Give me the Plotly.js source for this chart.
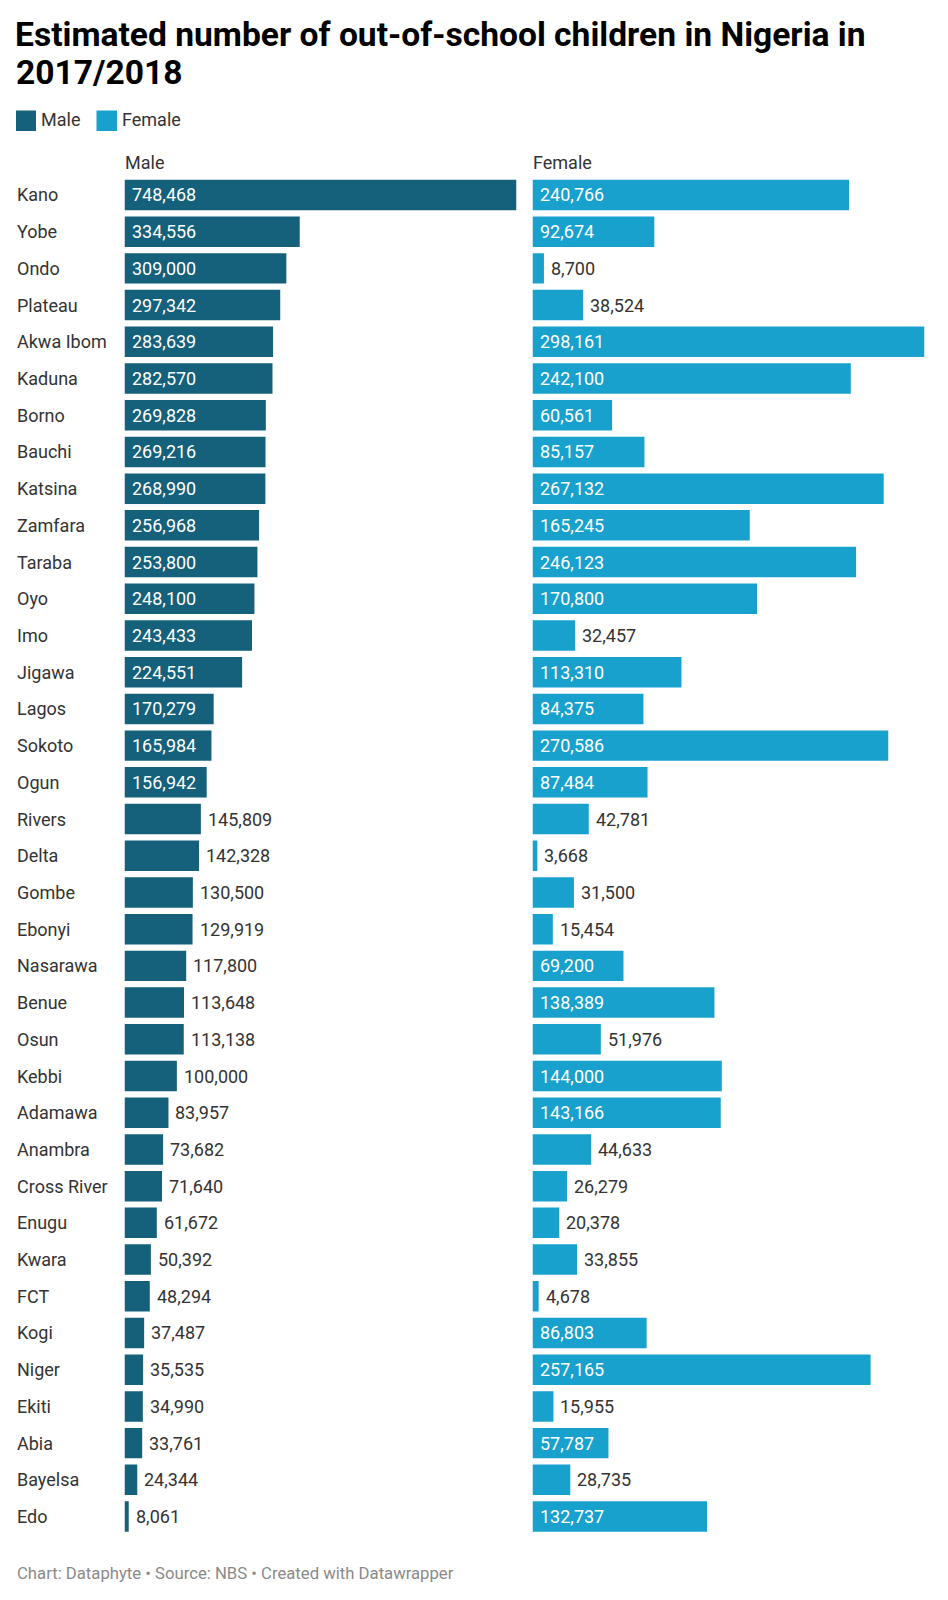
<!DOCTYPE html>
<html>
<head>
<meta charset="utf-8">
<script src="https://cdn.plot.ly/plotly-3.0.1.min.js"></script>
<style>
  html, body { margin: 0; padding: 0; background: #fff; }
  #chart { width: 948px; height: 1600px; }
</style>
</head>
<body>
<div id="chart"></div>
<script>
const states = ["Kano","Yobe","Ondo","Plateau","Akwa Ibom","Kaduna","Borno","Bauchi","Katsina","Zamfara","Taraba","Oyo","Imo","Jigawa","Lagos","Sokoto","Ogun","Rivers","Delta","Gombe","Ebonyi","Nasarawa","Benue","Osun","Kebbi","Adamawa","Anambra","Cross River","Enugu","Kwara","FCT","Kogi","Niger","Ekiti","Abia","Bayelsa","Edo"];
const male = [748468,334556,309000,297342,283639,282570,269828,269216,268990,256968,253800,248100,243433,224551,170279,165984,156942,145809,142328,130500,129919,117800,113648,113138,100000,83957,73682,71640,61672,50392,48294,37487,35535,34990,33761,24344,8061];
const female = [240766,92674,8700,38524,298161,242100,60561,85157,267132,165245,246123,170800,32457,113310,84375,270586,87484,42781,3668,31500,15454,69200,138389,51976,144000,143166,44633,26279,20378,33855,4678,86803,257165,15955,57787,28735,132737];
const seriesNames = ["Male", "Female"];
const titleLines = ["Estimated number of out-of-school children in Nigeria in", "2017/2018"];
const footerText = "Chart: Dataphyte • Source: NBS • Created with Datawrapper";

const W = 948, H = 1600;
const MALE_COLOR = "#15607a", FEMALE_COLOR = "#18a1cd";
const FONT = "Roboto, 'Noto Sans', sans-serif";
const TITLE_SIZE = 33.6;
const maleDom = [124.5 / W, 516.5 / W];
const femDom = [532.5 / W, 924.5 / W];
const rowTop = 176.6, rowBottom = 1534.9;
const yDom = [1 - rowBottom / H, 1 - rowTop / H];

const fmt = v => v.toLocaleString("en-US");
const ctx = document.createElement("canvas").getContext("2d");
ctx.font = "18px Roboto";
const textW = s => ctx.measureText(s).width;

function valueAnnotations(vals, xref, dom) {
  const maxV = Math.max(...vals);
  const panelPx = (dom[1] - dom[0]) * W;
  return vals.map((v, i) => {
    const label = fmt(v);
    const barPx = v / maxV * panelPx;
    const inside = barPx >= textW(label) + 16;
    return {
      xref: xref, yref: "y", x: inside ? 0 : v, y: states[i],
      text: label, showarrow: false, xanchor: "left", yanchor: "middle",
      xshift: 5,
      font: { family: FONT, size: 18, color: inside ? "#ffffff" : "#333333" }
    };
  });
}

const traces = [
  { type: "bar", orientation: "h", name: seriesNames[0], y: states, x: male,
    xaxis: "x", yaxis: "y", width: 0.83,
    marker: { color: MALE_COLOR, line: { width: 0 } },
    hoverinfo: "y+x", showlegend: false },
  { type: "bar", orientation: "h", name: seriesNames[1], y: states, x: female,
    xaxis: "x2", yaxis: "y", width: 0.83,
    marker: { color: FEMALE_COLOR, line: { width: 0 } },
    hoverinfo: "y+x", showlegend: false }
];

const catAnn = states.map(s => ({
  xref: "paper", yref: "y", x: 14.5 / W, y: s, text: s, showarrow: false,
  xanchor: "left", yanchor: "middle",
  font: { family: FONT, size: 18, color: "#333333" }
}));

function paperText(xpx, ypx, text, size, color, weight) {
  return { xref: "paper", yref: "paper", x: xpx / W, y: 1 - ypx / H, text: text,
    showarrow: false, xanchor: "left", yanchor: "middle",
    font: { family: FONT, size: size, color: color, weight: weight || "normal" } };
}

const otherAnn = [
  paperText(14, 72.5, titleLines[1], TITLE_SIZE, "#000000", "bold"),
  paperText(maleDom[0] * W - 1.5, 162, seriesNames[0], 18, "#333333"),
  paperText(femDom[0] * W - 1.5, 162, seriesNames[1], 18, "#333333"),
  paperText(38.5, 120, seriesNames[0], 18, "#333333"),
  paperText(120, 120, seriesNames[1], 18, "#333333"),
  paperText(14.5, 1573, footerText, 16.7, "#8a8a8a")
];

const shapes = [
  { type: "rect", xref: "paper", yref: "paper", x0: 16 / W, x1: 36 / W,
    y0: 1 - 131 / H, y1: 1 - 110.5 / H, fillcolor: MALE_COLOR, line: { width: 0 } },
  { type: "rect", xref: "paper", yref: "paper", x0: 96.5 / W, x1: 117 / W,
    y0: 1 - 131 / H, y1: 1 - 110.5 / H, fillcolor: FEMALE_COLOR, line: { width: 0 } }
];

const hiddenX = { showgrid: false, zeroline: false, showticklabels: false, showline: false, ticks: "", fixedrange: true };

const layout = {
  width: W, height: H,
  margin: { l: 0, r: 0, t: 0, b: 0, pad: 0 },
  paper_bgcolor: "#ffffff", plot_bgcolor: "#ffffff",
  font: { family: FONT, size: 18, color: "#333333" },
  title: {
    text: titleLines[0],
    x: 15 / W, xanchor: "left", xref: "paper",
    y: 1 - 22 / H, yanchor: "top", yref: "container",
    font: { family: FONT, size: TITLE_SIZE, color: "#000000", weight: "bold" }
  },
  showlegend: false,
  xaxis: Object.assign({ domain: maleDom, range: [0, Math.max(...male)], anchor: "y" }, hiddenX),
  xaxis2: Object.assign({ domain: femDom, range: [0, Math.max(...female)], anchor: "y" }, hiddenX),
  yaxis: { domain: yDom, type: "category", autorange: "reversed", showgrid: false, zeroline: false,
           showticklabels: false, showline: false, ticks: "", fixedrange: true },
  shapes: shapes,
  annotations: [].concat(catAnn, otherAnn,
    valueAnnotations(male, "x", maleDom), valueAnnotations(female, "x2", femDom))
};

Plotly.newPlot("chart", traces, layout, { displayModeBar: false });
</script>
</body>
</html>
